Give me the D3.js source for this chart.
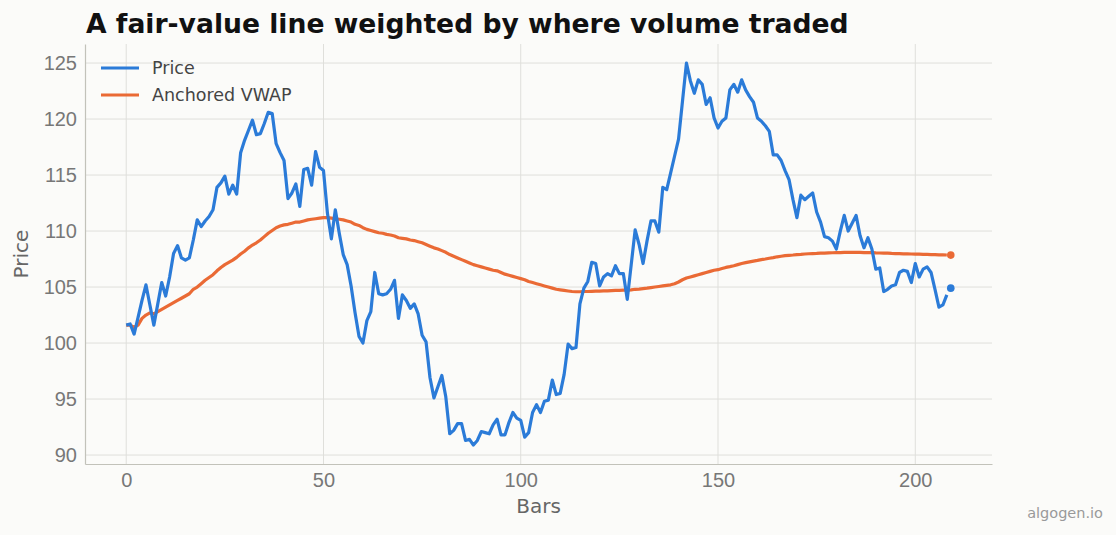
<!DOCTYPE html>
<html>
<head>
<meta charset="utf-8">
<script src="https://cdn.jsdelivr.net/npm/d3@7"></script>
<style>
  body { margin: 0; background: #fbfbf9; }
  svg { font-family: "DejaVu Sans", sans-serif; }
  .grid line { stroke: #dfdfdb; stroke-width: 1; }
  .tick-label { fill: #777; font-size: 20px; }
  .axis-title { fill: #666; font-size: 20px; }
  .legend-text { fill: #444; font-size: 17.5px; }
</style>
</head>
<body>
<div id="chart"></div>
<script>
// price path, one value per bar
var price = [
  101.6, 101.7, 100.8, 102.3, 103.8, 105.2, 103.4, 101.6, 103.5, 105.4,
  104.2, 105.9, 108.0, 108.7, 107.6, 107.4, 107.6, 109.2, 111.0, 110.4,
  110.9, 111.3, 111.9, 113.9, 114.3, 114.9, 113.3, 114.1, 113.3, 117.0,
  118.1, 119.0, 119.9, 118.6, 118.7, 119.6, 120.6, 120.5, 117.8, 117.0,
  116.3, 112.9, 113.4, 114.2, 112.2, 115.5, 115.6, 114.1, 117.1, 115.7,
  115.4, 111.6, 109.3, 111.9, 109.8, 107.9, 107.0, 105.1, 102.7, 100.6,
  100.0, 102.0, 102.8, 106.3, 104.4, 104.3, 104.4, 104.8, 105.6, 102.2,
  104.3, 103.8, 103.1, 103.5, 102.6, 100.7, 100.1, 96.9, 95.1, 96.1,
  97.1, 95.2, 91.9, 92.2, 92.8, 92.8, 91.3, 91.4, 90.9, 91.3,
  92.1, 92.0, 91.9, 92.7, 93.2, 91.8, 91.8, 92.9, 93.8, 93.3,
  93.1, 91.6, 92.0, 93.8, 94.5, 93.8, 94.8, 94.9, 96.7, 95.4,
  95.5, 97.2, 99.9, 99.5, 99.6, 103.5, 104.9, 105.5, 107.2, 107.1,
  105.1, 105.9, 106.2, 106.0, 106.9, 106.2, 106.2, 103.9, 107.0, 110.1,
  108.8, 107.1, 109.1, 110.9, 110.9, 109.9, 113.9, 113.7, 115.2, 116.7,
  118.2, 121.6, 125.0, 123.4, 122.3, 123.5, 123.1, 121.3, 121.9, 120.1,
  119.2, 119.8, 120.1, 122.6, 123.1, 122.4, 123.5, 122.6, 122.0, 121.5,
  120.1, 119.8, 119.4, 118.9, 116.8, 116.8, 116.3, 115.4, 114.6, 112.8,
  111.2, 113.2, 112.8, 113.1, 113.4, 111.7, 110.8, 109.5, 109.4, 109.1,
  108.4, 110.0, 111.4, 110.0, 110.7, 111.4, 109.6, 108.5, 109.4, 108.4,
  106.6, 106.7, 104.6, 104.8, 105.1, 105.2, 106.3, 106.5, 106.4, 105.4,
  107.1, 105.9, 106.6, 106.8, 106.3, 104.8, 103.2, 103.4, 104.3
];

// anchored vwap, one value per bar
var vwap = [
  101.6, 101.6, 101.4, 101.6, 102.2, 102.5, 102.7, 102.6, 102.8, 103.0,
  103.2, 103.4, 103.6, 103.8, 104.0, 104.2, 104.4, 104.8, 105.0, 105.3,
  105.6, 105.85, 106.1, 106.45, 106.75, 107.0, 107.2, 107.4, 107.65, 107.95,
  108.2, 108.5, 108.75, 108.95, 109.2, 109.5, 109.8, 110.05, 110.3, 110.45,
  110.55, 110.6, 110.7, 110.8, 110.8, 110.9, 111.0, 111.05, 111.1, 111.15,
  111.2, 111.2, 111.15, 111.1, 111.05, 111.0, 110.9, 110.8, 110.6, 110.5,
  110.3, 110.15, 110.05, 109.95, 109.85, 109.8, 109.7, 109.65, 109.55, 109.4,
  109.35, 109.3, 109.2, 109.15, 109.05, 108.95, 108.8, 108.65, 108.5, 108.4,
  108.25, 108.1, 107.9, 107.75, 107.6, 107.45, 107.3, 107.15, 107.0, 106.9,
  106.8, 106.7, 106.6, 106.5, 106.45, 106.3, 106.15, 106.05, 105.95, 105.85,
  105.75, 105.65, 105.5, 105.4, 105.3, 105.2, 105.1, 105.0, 104.9, 104.8,
  104.75, 104.7, 104.65, 104.6, 104.58, 104.58, 104.6, 104.6, 104.62, 104.63,
  104.64, 104.65, 104.66, 104.68, 104.7, 104.7, 104.72, 104.72, 104.75, 104.8,
  104.82, 104.86, 104.9, 104.95, 105.0, 105.05, 105.1, 105.15, 105.2, 105.3,
  105.45, 105.65, 105.8, 105.9, 106.0, 106.1, 106.2, 106.3, 106.4, 106.5,
  106.55, 106.65, 106.75, 106.82, 106.9, 107.0, 107.1, 107.18, 107.25, 107.32,
  107.38, 107.45, 107.5, 107.57, 107.63, 107.7, 107.75, 107.8, 107.83, 107.86,
  107.9, 107.92, 107.95, 107.97, 107.99, 108.0, 108.02, 108.03, 108.05, 108.06,
  108.07, 108.08, 108.1, 108.1, 108.1, 108.1, 108.1, 108.08, 108.08, 108.07,
  108.05, 108.04, 108.03, 108.02, 108.0, 107.99, 107.98, 107.97, 107.96, 107.95,
  107.94, 107.93, 107.92, 107.91, 107.9, 107.89, 107.88, 107.87, 107.86
];

// last marks shown as dots
var lastBar = 209;
var lastPrice = 104.9;
var lastVwap = 107.85;

var xTicks = [0, 50, 100, 150, 200];
var yTicks = [90, 95, 100, 105, 110, 115, 120, 125];
var seriesNames = ["Price", "Anchored VWAP"];
var seriesColors = ["#2b7bd8", "#ea6a35"];

var svgWidth = 1116;
var svgHeight = 535;

var margin = {
  top: 44,
  right: 124,
  bottom: 71,
  left: 85
};

var width = svgWidth - margin.left - margin.right;
var height = svgHeight - margin.top - margin.bottom;

var svg = d3.select("#chart")
  .append("svg")
  .attr("width", svgWidth)
  .attr("height", svgHeight);

svg.append("rect")
  .attr("width", svgWidth)
  .attr("height", svgHeight)
  .attr("fill", "#fbfbf9");

var chartGroup = svg.append("g")
  .attr("transform", `translate(${margin.left}, ${margin.top})`);

var xPad = lastBar * 0.05;
var xScale = d3.scaleLinear()
  .domain([-xPad, lastBar + xPad])
  .range([0, width]);

var yScale = d3.scaleLinear()
  .domain([89.2, 126.7])
  .range([height, 0]);

// grid
chartGroup.append("g")
  .attr("class", "grid")
  .selectAll("line")
  .data(yTicks)
  .enter()
  .append("line")
  .attr("x1", 0)
  .attr("x2", width)
  .attr("y1", d => yScale(d))
  .attr("y2", d => yScale(d));

chartGroup.append("g")
  .attr("class", "grid")
  .selectAll("line")
  .data(xTicks)
  .enter()
  .append("line")
  .attr("y1", 0)
  .attr("y2", height)
  .attr("x1", d => xScale(d))
  .attr("x2", d => xScale(d));

// axes, only spines + labels
var bottomAxis = d3.axisBottom(xScale).tickValues(xTicks).tickSize(0).tickPadding(9);
var leftAxis = d3.axisLeft(yScale).tickValues(yTicks).tickSize(0).tickPadding(8);

var xAxisG = chartGroup.append("g")
  .attr("transform", `translate(0, ${height})`)
  .call(bottomAxis);

var yAxisG = chartGroup.append("g")
  .call(leftAxis);

[xAxisG, yAxisG].forEach(g => {
  g.select(".domain").attr("stroke", "#c2c2ba").attr("stroke-width", 1.2);
  g.selectAll("text")
    .attr("class", "tick-label")
    .attr("font-family", null)
    .attr("font-size", null)
    .attr("fill", null);
});

// lines
var line = d3.line()
  .x((d, i) => xScale(i))
  .y(d => yScale(d));

chartGroup.append("path")
  .datum(vwap)
  .attr("fill", "none")
  .attr("stroke", seriesColors[1])
  .attr("stroke-width", 3.2)
  .attr("stroke-linejoin", "round")
  .attr("d", line);

chartGroup.append("path")
  .datum(price)
  .attr("fill", "none")
  .attr("stroke", seriesColors[0])
  .attr("stroke-width", 3.2)
  .attr("stroke-linejoin", "round")
  .attr("d", line);

chartGroup.append("circle")
  .attr("cx", xScale(lastBar))
  .attr("cy", yScale(lastPrice))
  .attr("r", 3.8)
  .attr("fill", seriesColors[0]);

chartGroup.append("circle")
  .attr("cx", xScale(lastBar))
  .attr("cy", yScale(lastVwap))
  .attr("r", 3.8)
  .attr("fill", seriesColors[1]);

// legend
var legend = chartGroup.selectAll(".legend")
  .data(seriesNames)
  .enter()
  .append("g")
  .attr("transform", (d, i) => `translate(16, ${24 + i * 27})`);

legend.append("line")
  .attr("x1", 0)
  .attr("x2", 38)
  .attr("stroke", (d, i) => seriesColors[i])
  .attr("stroke-width", 3.2);

legend.append("text")
  .attr("class", "legend-text")
  .attr("x", 51)
  .attr("dy", "0.35em")
  .text(d => d);

// titles
svg.append("text")
  .attr("x", 86)
  .attr("y", 33)
  .attr("font-size", "26.6px")
  .attr("font-weight", "bold")
  .attr("fill", "#111")
  .text("A fair-value line weighted by where volume traded");

svg.append("text")
  .attr("class", "axis-title")
  .attr("text-anchor", "middle")
  .attr("x", margin.left + width / 2)
  .attr("y", 513)
  .text("Bars");

svg.append("text")
  .attr("class", "axis-title")
  .attr("text-anchor", "middle")
  .attr("transform", `translate(28, ${margin.top + height / 2}) rotate(-90)`)
  .text("Price");

svg.append("text")
  .attr("text-anchor", "end")
  .attr("x", 1103)
  .attr("y", 518)
  .attr("font-size", "14.5px")
  .attr("fill", "#999")
  .text("algogen.io");
</script>
</body>
</html>
